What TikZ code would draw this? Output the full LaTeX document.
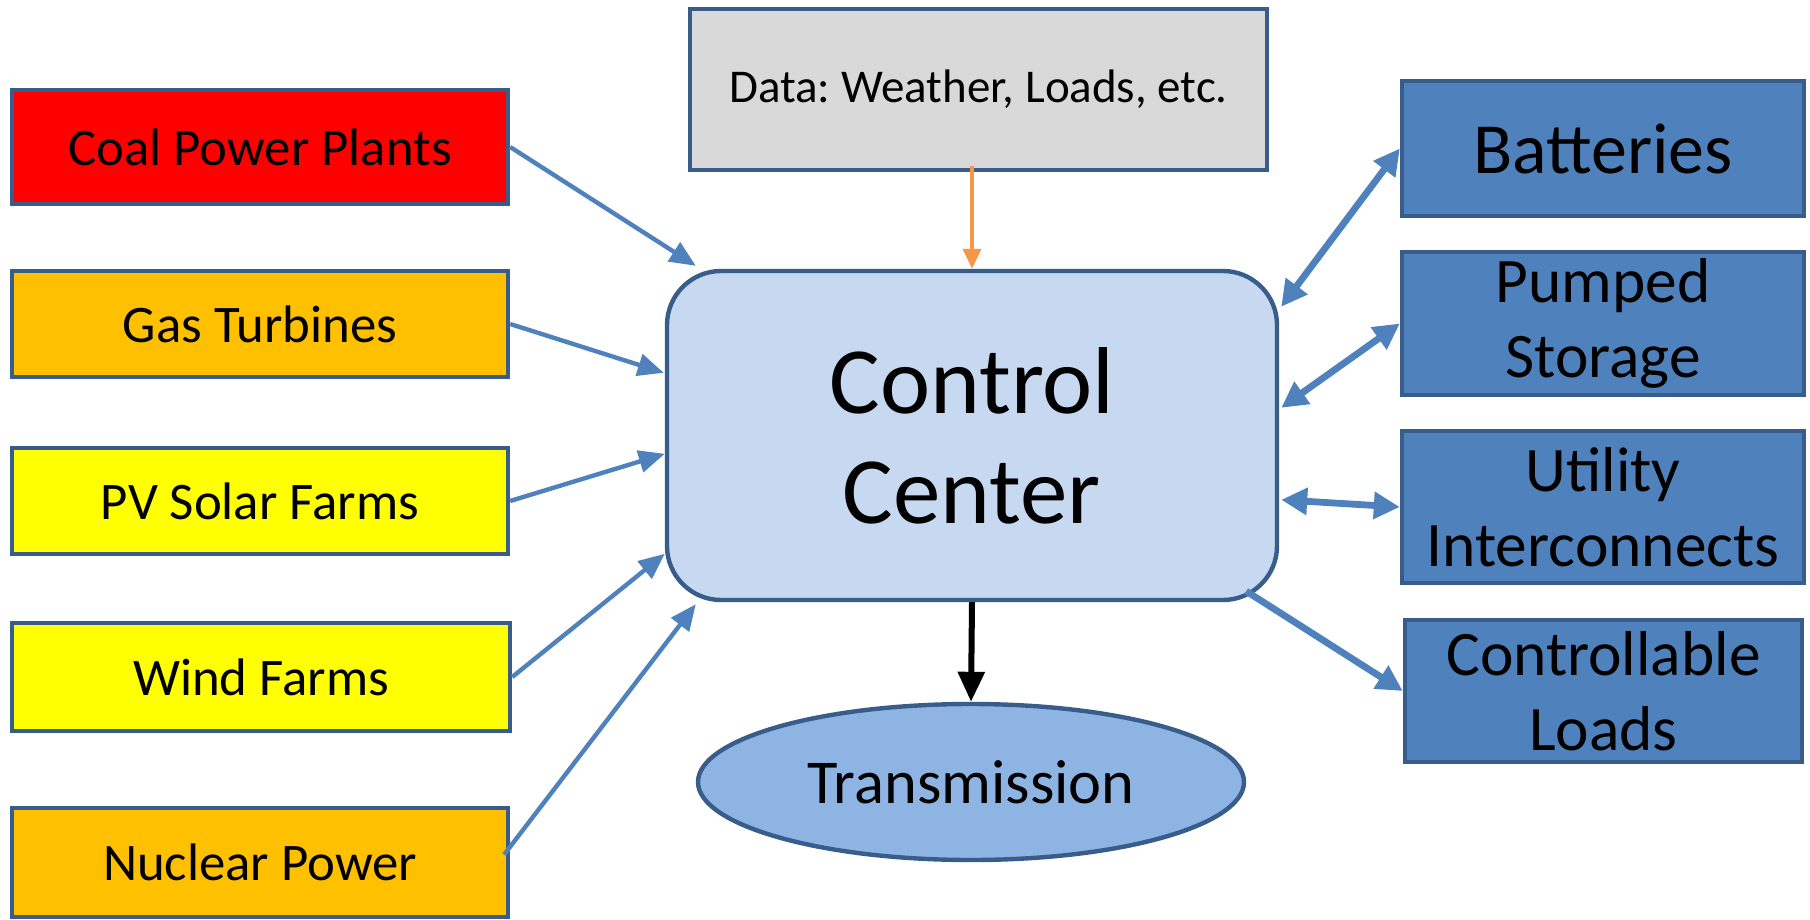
\documentclass[tikz,border=0pt]{standalone}
\usepackage{fontspec}
\setmainfont{Carlito}
\frenchspacing
\usetikzlibrary{arrows.meta,calc,shapes.geometric}

\definecolor{edgeblue}{HTML}{385D8A}
\definecolor{linkblue}{HTML}{4F81BD}
\definecolor{dataorange}{HTML}{F79646}
\definecolor{coalred}{HTML}{FF0000}
\definecolor{amber}{HTML}{FFC000}
\definecolor{brightyellow}{HTML}{FFFF00}
\definecolor{datagrey}{HTML}{D9D9D9}
\definecolor{hubblue}{HTML}{C6D9F1}
\definecolor{gridblue}{HTML}{8EB4E3}
\definecolor{storeblue}{HTML}{4F81BD}

\tikzset{
  box/.style={draw=edgeblue, line width=2.2pt, inner sep=0pt, align=center},
  source/.style={box, minimum width=248pt, minimum height=54pt,
    font=\fontsize{26.4}{32}\selectfont},
  store/.style={box, fill=storeblue, minimum width=201pt,
    font=\fontsize{31.7}{37.5}\selectfont},
  feed/.style={draw=linkblue, line width=2.2pt,
    -{Triangle[length=13pt,width=11pt]}},
  both/.style={draw=linkblue, line width=3.4pt,
    {Triangle[length=13pt,width=13pt]}-{Triangle[length=13pt,width=13pt]}},
  oneway/.style={draw=linkblue, line width=3.4pt,
    -{Triangle[length=13pt,width=13pt]}}
}

\begin{document}
\begin{tikzpicture}[x=0.5pt, y=-0.5pt]
\useasboundingbox (0,0) rectangle (1810,920);

% generating sources
\node[source, fill=coalred, minimum height=57pt] (coal) at (260,147) {Coal Power Plants};
\node[source, fill=amber, minimum height=53pt] (gas) at (260,324) {Gas Turbines};
\node[source, fill=brightyellow, minimum height=53pt] (pv) at (260,501) {PV Solar Farms};
\node[source, fill=brightyellow, minimum width=249pt] (wind) at (261,677) {Wind Farms};
\node[source, fill=amber, minimum height=54.5pt] (nuc) at (260,862.5) {Nuclear Power};

% data feed
\node[box, fill=datagrey, minimum width=288.5pt, minimum height=80.5pt,
  font=\fontsize{23.5}{28}\selectfont] (data) at (978.5,89.5) {Data: Weather, Loads, etc.};

% control center
\node[box, fill=hubblue, rounded corners=27pt, minimum width=305pt, minimum height=164.5pt,
  font=\fontsize{47.5}{55}\selectfont] (cc) at (972,435.5) {Control\\Center};

% transmission
\node[box, ellipse, fill=gridblue, minimum width=273pt, minimum height=78pt,
  font=\fontsize{31.2}{37}\selectfont] (trans) at (971,782) {Transmission};

% storage and loads
\node[store, minimum height=67.5pt, font=\fontsize{36}{43}\selectfont] (bat) at (1603,148.5) {Batteries};
\node[store, minimum height=71.5pt] (pump) at (1603,323.5) {Pumped\\Storage};
\node[store, minimum height=76pt] (util) at (1603,507) {Utility\\Interconnects};
\node[store, minimum width=198.5pt, minimum height=71pt] (ctrl) at (1603.5,691) {Controllable\\Loads};

% source feeds into the control center
\draw[feed] (coal.east) -- ($(cc.north west)+(31,-3)$);
\draw[feed] (gas.east) -- ($(cc.north west)+(-1,104)$);
\draw[feed] (pv.east) -- ($(cc.north west)+(0,185)$);
\draw[feed] (wind.east) -- ($(cc.north west)+(0,285)$);
\draw[feed] ($(nuc.east)+(-6,-8)$) -- ($(cc.south west)+(31,2)$);

% data link
\draw[draw=dataorange, line width=1.8pt, -{Triangle[length=10pt,width=9pt]}]
  ($(data.south -| cc.north)+(0,-6)$) -- (cc.north);

% output to transmission
\draw[draw=black, line width=3pt, -{Triangle[length=15pt,width=13pt]}]
  (cc.south) -- (trans.north);

% two-way exchanges
\draw[both] ($(cc.north east)+(2,38)$) -- (bat.west);
\draw[both] ($(cc.north east)+(2,139)$) -- (pump.west);
\draw[both] ($(cc.north east)+(2,231)$) -- (util.west);
\draw[oneway] ($(cc.south east)+(-33,-11)$) -- (ctrl.west);
\end{tikzpicture}
\end{document}
